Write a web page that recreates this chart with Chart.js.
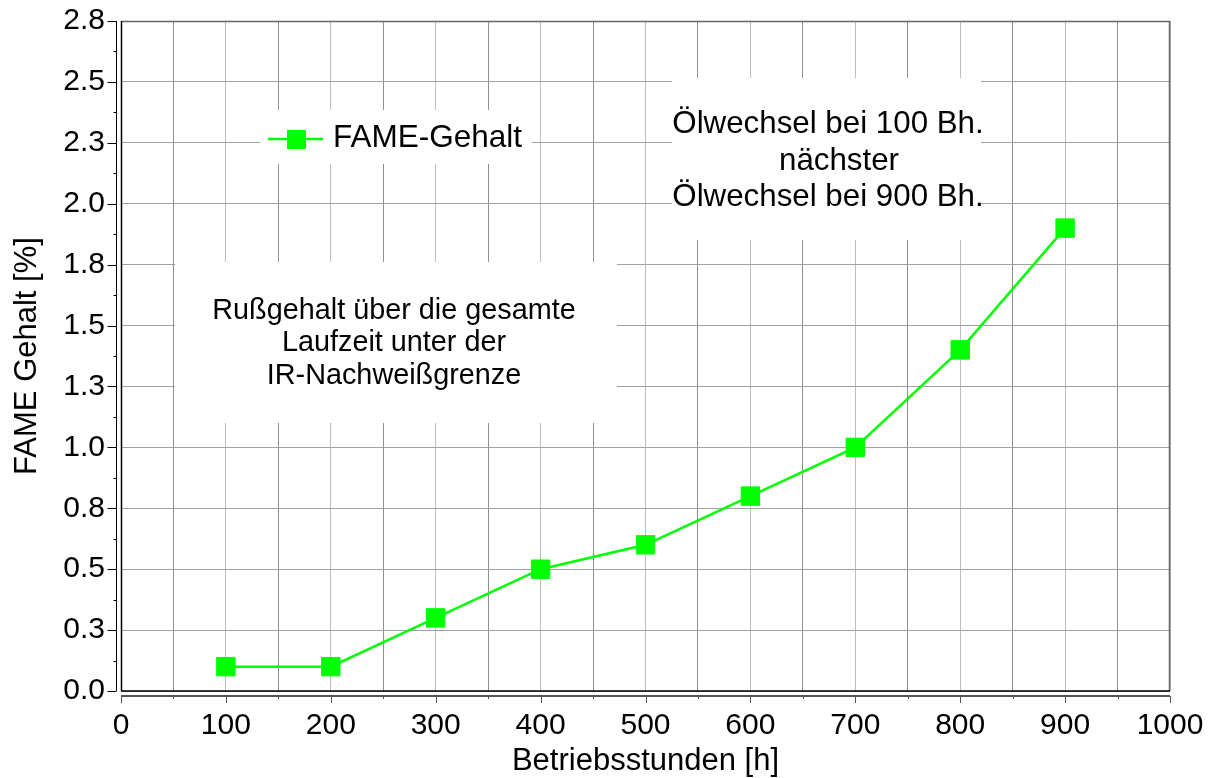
<!DOCTYPE html>
<html>
<head>
<meta charset="utf-8">
<script src="https://cdn.jsdelivr.net/npm/chart.js@4/dist/chart.umd.min.js"></script>
<style>
  html, body { margin: 0; padding: 0; background: #fff; }
  #wrap { width: 1215px; height: 778px; }
</style>
</head>
<body>
<div id="wrap"><canvas id="fame-chart" width="1215" height="778"></canvas></div>
<script>
// Werte
const hours = [100, 200, 300, 400, 500, 600, 700, 800, 900];
const fame = [0.1, 0.1, 0.3, 0.5, 0.6, 0.8, 1.0, 1.4, 1.9];
const seriesLabel = 'FAME-Gehalt';
const noteOil = ['Ölwechsel bei 100 Bh.', 'nächster', 'Ölwechsel bei 900 Bh.'];
const noteSoot = ['Rußgehalt über die gesamte', 'Laufzeit unter der', 'IR-Nachweißgrenze'];

const green = '#00ff00';
const fontFamily = '"Liberation Sans", Arial, Helvetica, sans-serif';

Chart.defaults.font.family = fontFamily;
Chart.defaults.color = '#000';

const points = hours.map((h, i) => ({ x: h, y: fame[i] }));

// weisse Kaesten, Legende und Texte im Diagramm
const boxesPlugin = {
  id: 'boxes',
  beforeDatasetsDraw(chart) {
    const c = chart.ctx;
    c.save();
    c.fillStyle = '#fff';
    c.fillRect(260, 110, 272, 54);
    c.fillRect(672, 78, 309, 162);
    c.fillRect(175, 262, 442, 161);

    // Legende
    c.strokeStyle = green;
    c.lineWidth = 2.5;
    c.beginPath();
    c.moveTo(268, 139);
    c.lineTo(323, 139);
    c.stroke();
    c.fillStyle = green;
    c.fillRect(287, 130, 19, 19);
    c.fillStyle = '#000';
    c.font = '31.5px ' + fontFamily;
    c.textBaseline = 'middle';
    c.textAlign = 'left';
    c.fillText(chart.data.datasets[0].label, 333, 138);

    // Ölwechsel
    c.font = '31.3px ' + fontFamily;
    c.textAlign = 'center';
    const oilX = [828, 839, 828];
    const oilY = [124, 161, 197];
    noteOil.forEach((t, i) => c.fillText(t, oilX[i], oilY[i]));

    // Rußgehalt
    c.font = '28.8px ' + fontFamily;
    const sootY = [311.5, 343, 376.5];
    noteSoot.forEach((t, i) => c.fillText(t, 394, sootY[i]));
    c.restore();
  },
  afterDraw(chart) {
    const c = chart.ctx;
    const a = chart.chartArea;
    const xs = chart.scales.x;
    const ys = chart.scales.y;
    c.save();

    // Rahmen
    c.lineWidth = 1.5;
    c.strokeStyle = '#666';
    c.beginPath();
    c.moveTo(a.left, a.top + 0.5);
    c.lineTo(a.right, a.top + 0.5);
    c.moveTo(a.right - 0.5, a.top);
    c.lineTo(a.right - 0.5, a.bottom);
    c.stroke();
    c.strokeStyle = '#000';
    c.beginPath();
    c.moveTo(a.left, a.bottom);
    c.lineTo(a.right, a.bottom);
    c.moveTo(a.left + 0.5, a.top);
    c.lineTo(a.left + 0.5, a.bottom);
    c.stroke();

    // y-Achse abgesetzt
    const yx = a.left - 4.5;
    c.lineWidth = 1;
    c.strokeStyle = '#000';
    c.beginPath();
    c.moveTo(yx, a.top);
    c.lineTo(yx, a.bottom);
    const yt = ys.ticks.map(t => t.value);
    yt.forEach((v, i) => {
      const py = Math.round(ys.getPixelForValue(v)) + 0.5;
      c.moveTo(yx - 9, py);
      c.lineTo(yx, py);
      if (i < yt.length - 1) {
        const pm = Math.round(ys.getPixelForValue((v + yt[i + 1]) / 2)) + 0.5;
        c.moveTo(yx - 3, pm);
        c.lineTo(yx, pm);
      }
    });
    c.stroke();

    // x-Achse abgesetzt
    const xy = a.bottom + 5;
    c.lineWidth = 2;
    c.strokeStyle = '#555';
    c.beginPath();
    c.moveTo(a.left, xy);
    c.lineTo(a.right, xy);
    c.stroke();
    c.lineWidth = 1;
    c.beginPath();
    xs.ticks.forEach(t => {
      const px = Math.round(xs.getPixelForValue(t.value)) + 0.5;
      const len = t.value % 100 === 0 ? 7 : 3;
      c.moveTo(px, xy);
      c.lineTo(px, xy + len);
    });
    c.stroke();
    c.restore();
  }
};

const ctx = document.getElementById('fame-chart').getContext('2d');

new Chart(ctx, {
  type: 'line',
  data: {
    datasets: [{
      label: seriesLabel,
      data: points,
      borderColor: green,
      backgroundColor: green,
      borderWidth: 2.5,
      pointStyle: 'rect',
      pointRadius: 13,
      pointBorderWidth: 1,
      pointBorderColor: green,
      pointBackgroundColor: green,
      tension: 0
    }]
  },
  options: {
    responsive: false,
    animation: false,
    layout: {
      padding: { left: 0, right: 45, top: 21, bottom: 0 }
    },
    plugins: {
      legend: { display: false },
      tooltip: { enabled: false }
    },
    scales: {
      x: {
        type: 'linear',
        min: 0,
        max: 1000,
        afterFit: s => {
          s.height = 87;
          s.paddingLeft = 0;
          s.paddingRight = 0;
        },
        border: { display: false },
        grid: {
          drawTicks: false,
          color: c => (c.tick && c.tick.value % 100 === 0) ? '#bdbdbd' : '#8f8f8f',
          lineWidth: 1
        },
        ticks: {
          stepSize: 50,
          padding: 17,
          maxRotation: 0,
          autoSkip: false,
          font: { size: 30, lineHeight: 1.2 },
          callback: v => v % 100 === 0 ? String(v) : ''
        },
        title: {
          display: true,
          text: 'Betriebsstunden [h]',
          font: { size: 31, lineHeight: 1 },
          padding: { top: 0, bottom: 1 }
        }
      },
      y: {
        min: 0,
        max: 2.75,
        afterFit: s => {
          s.width = 121;
          s.paddingTop = 0;
          s.paddingBottom = 0;
        },
        border: { display: false },
        grid: {
          drawTicks: false,
          color: '#a0a0a0',
          lineWidth: 1
        },
        ticks: {
          stepSize: 0.25,
          padding: 16,
          autoSkip: false,
          font: { size: 30, lineHeight: 1.2 },
          callback: v => v.toFixed(1)
        },
        title: {
          display: true,
          text: 'FAME Gehalt [%]',
          font: { size: 31, lineHeight: 1 },
          padding: { top: 12, bottom: 0 }
        }
      }
    }
  },
  plugins: [boxesPlugin]
});
</script>
</body>
</html>
